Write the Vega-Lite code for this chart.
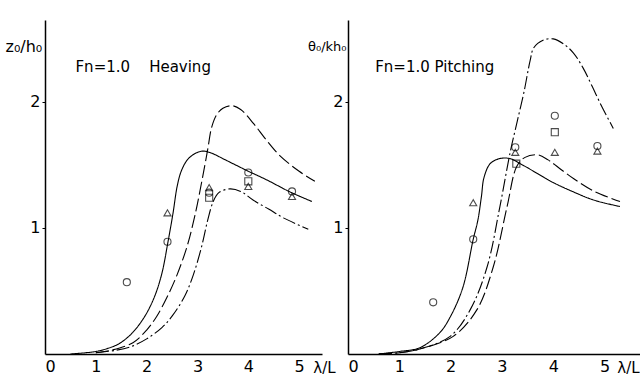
{
  "$schema": "https://vega.github.io/schema/vega-lite/v6.json",
  "padding": {"left": 5, "top": 20, "right": 0, "bottom": 4},
  "background": "white",
  "spacing": 26,
  "bounds": "flush",
  "config": {
    "view": {"stroke": null},
    "font": "DejaVu Sans",
    "axis": {
      "domainColor": "black", "domainWidth": 1.5, "tickColor": "black", "tickWidth": 1,
      "labelColor": "black", "labelFontSize": 16, "titleColor": "black", "titleFontWeight": "normal",
      "grid": false
    }
  },
  "datasets": {
    "heaveLines": [
      {"curve": "solid", "x": 0.5, "y": 0.0}, {"curve": "solid", "x": 0.8, "y": 0.01}, {"curve": "solid", "x": 1.0, "y": 0.02},
      {"curve": "solid", "x": 1.2, "y": 0.04}, {"curve": "solid", "x": 1.45, "y": 0.08}, {"curve": "solid", "x": 1.7, "y": 0.16},
      {"curve": "solid", "x": 1.95, "y": 0.29}, {"curve": "solid", "x": 2.15, "y": 0.45}, {"curve": "solid", "x": 2.3, "y": 0.64},
      {"curve": "solid", "x": 2.42, "y": 0.89}, {"curve": "solid", "x": 2.52, "y": 1.12}, {"curve": "solid", "x": 2.6, "y": 1.33},
      {"curve": "solid", "x": 2.68, "y": 1.45}, {"curve": "solid", "x": 2.8, "y": 1.54}, {"curve": "solid", "x": 2.95, "y": 1.59},
      {"curve": "solid", "x": 3.11, "y": 1.61}, {"curve": "solid", "x": 3.3, "y": 1.59}, {"curve": "solid", "x": 3.5, "y": 1.55},
      {"curve": "solid", "x": 3.7, "y": 1.51}, {"curve": "solid", "x": 4.0, "y": 1.45}, {"curve": "solid", "x": 4.37, "y": 1.38},
      {"curve": "solid", "x": 4.8, "y": 1.29}, {"curve": "solid", "x": 5.25, "y": 1.21},
      {"curve": "dash", "x": 1.0, "y": 0.01}, {"curve": "dash", "x": 1.3, "y": 0.03}, {"curve": "dash", "x": 1.73, "y": 0.09},
      {"curve": "dash", "x": 2.0, "y": 0.19}, {"curve": "dash", "x": 2.2, "y": 0.3}, {"curve": "dash", "x": 2.4, "y": 0.45},
      {"curve": "dash", "x": 2.6, "y": 0.63}, {"curve": "dash", "x": 2.8, "y": 0.86}, {"curve": "dash", "x": 2.95, "y": 1.1},
      {"curve": "dash", "x": 3.09, "y": 1.38}, {"curve": "dash", "x": 3.2, "y": 1.62}, {"curve": "dash", "x": 3.28, "y": 1.8},
      {"curve": "dash", "x": 3.38, "y": 1.9}, {"curve": "dash", "x": 3.5, "y": 1.95}, {"curve": "dash", "x": 3.68, "y": 1.97},
      {"curve": "dash", "x": 3.85, "y": 1.94}, {"curve": "dash", "x": 4.1, "y": 1.83}, {"curve": "dash", "x": 4.35, "y": 1.7},
      {"curve": "dash", "x": 4.63, "y": 1.57}, {"curve": "dash", "x": 5.0, "y": 1.45}, {"curve": "dash", "x": 5.31, "y": 1.37},
      {"curve": "dashdot", "x": 1.0, "y": 0.01}, {"curve": "dashdot", "x": 1.4, "y": 0.03}, {"curve": "dashdot", "x": 1.7, "y": 0.06},
      {"curve": "dashdot", "x": 2.0, "y": 0.12}, {"curve": "dashdot", "x": 2.3, "y": 0.21}, {"curve": "dashdot", "x": 2.5, "y": 0.3},
      {"curve": "dashdot", "x": 2.75, "y": 0.46}, {"curve": "dashdot", "x": 2.92, "y": 0.63}, {"curve": "dashdot", "x": 3.08, "y": 0.85},
      {"curve": "dashdot", "x": 3.2, "y": 1.06}, {"curve": "dashdot", "x": 3.31, "y": 1.21}, {"curve": "dashdot", "x": 3.42, "y": 1.28},
      {"curve": "dashdot", "x": 3.64, "y": 1.31}, {"curve": "dashdot", "x": 3.85, "y": 1.29}, {"curve": "dashdot", "x": 4.1, "y": 1.22},
      {"curve": "dashdot", "x": 4.4, "y": 1.15}, {"curve": "dashdot", "x": 4.69, "y": 1.08}, {"curve": "dashdot", "x": 5.18, "y": 0.99}
    ],
    "heavePts": [
      {"sym": "circle", "x": 1.61, "y": 0.57}, {"sym": "circle", "x": 2.41, "y": 0.89}, {"sym": "triangle", "x": 2.41, "y": 1.12},
      {"sym": "triangle", "x": 3.23, "y": 1.32}, {"sym": "circle", "x": 3.23, "y": 1.28}, {"sym": "square", "x": 3.23, "y": 1.24},
      {"sym": "circle", "x": 4.0, "y": 1.44}, {"sym": "square", "x": 4.0, "y": 1.37}, {"sym": "triangle", "x": 4.0, "y": 1.33},
      {"sym": "circle", "x": 4.86, "y": 1.29}, {"sym": "triangle", "x": 4.86, "y": 1.25}
    ],
    "pitchLines": [
      {"curve": "solid", "x": 0.6, "y": 0.0}, {"curve": "solid", "x": 1.0, "y": 0.02}, {"curve": "solid", "x": 1.4, "y": 0.05},
      {"curve": "solid", "x": 1.79, "y": 0.17}, {"curve": "solid", "x": 2.0, "y": 0.3}, {"curve": "solid", "x": 2.24, "y": 0.53},
      {"curve": "solid", "x": 2.44, "y": 0.91}, {"curve": "solid", "x": 2.53, "y": 1.06}, {"curve": "solid", "x": 2.6, "y": 1.25},
      {"curve": "solid", "x": 2.65, "y": 1.4}, {"curve": "solid", "x": 2.77, "y": 1.51}, {"curve": "solid", "x": 2.95, "y": 1.55},
      {"curve": "solid", "x": 3.16, "y": 1.55}, {"curve": "solid", "x": 3.4, "y": 1.5}, {"curve": "solid", "x": 3.7, "y": 1.43},
      {"curve": "solid", "x": 4.0, "y": 1.36}, {"curve": "solid", "x": 4.37, "y": 1.29}, {"curve": "solid", "x": 4.8, "y": 1.22},
      {"curve": "solid", "x": 5.3, "y": 1.17},
      {"curve": "dashdot", "x": 0.6, "y": 0.0}, {"curve": "dashdot", "x": 1.0, "y": 0.01}, {"curve": "dashdot", "x": 1.4, "y": 0.04},
      {"curve": "dashdot", "x": 1.99, "y": 0.14}, {"curve": "dashdot", "x": 2.38, "y": 0.35}, {"curve": "dashdot", "x": 2.71, "y": 0.69},
      {"curve": "dashdot", "x": 2.96, "y": 1.17}, {"curve": "dashdot", "x": 3.16, "y": 1.6}, {"curve": "dashdot", "x": 3.3, "y": 1.85},
      {"curve": "dashdot", "x": 3.43, "y": 2.08}, {"curve": "dashdot", "x": 3.55, "y": 2.33}, {"curve": "dashdot", "x": 3.62, "y": 2.43},
      {"curve": "dashdot", "x": 3.8, "y": 2.49}, {"curve": "dashdot", "x": 4.0, "y": 2.5}, {"curve": "dashdot", "x": 4.2, "y": 2.46},
      {"curve": "dashdot", "x": 4.39, "y": 2.39}, {"curve": "dashdot", "x": 4.58, "y": 2.27}, {"curve": "dashdot", "x": 4.75, "y": 2.13},
      {"curve": "dashdot", "x": 4.95, "y": 1.96}, {"curve": "dashdot", "x": 5.17, "y": 1.79},
      {"curve": "dash", "x": 0.6, "y": 0.0}, {"curve": "dash", "x": 1.0, "y": 0.01}, {"curve": "dash", "x": 1.4, "y": 0.04},
      {"curve": "dash", "x": 2.05, "y": 0.14}, {"curve": "dash", "x": 2.51, "y": 0.35}, {"curve": "dash", "x": 2.83, "y": 0.69},
      {"curve": "dash", "x": 3.1, "y": 1.17}, {"curve": "dash", "x": 3.29, "y": 1.49}, {"curve": "dash", "x": 3.45, "y": 1.56},
      {"curve": "dash", "x": 3.7, "y": 1.58}, {"curve": "dash", "x": 3.9, "y": 1.54}, {"curve": "dash", "x": 4.1, "y": 1.48},
      {"curve": "dash", "x": 4.4, "y": 1.39}, {"curve": "dash", "x": 4.8, "y": 1.29}, {"curve": "dash", "x": 5.3, "y": 1.21}
    ],
    "pitchPts": [
      {"sym": "circle", "x": 1.66, "y": 0.41}, {"sym": "circle", "x": 2.44, "y": 0.91}, {"sym": "triangle", "x": 2.44, "y": 1.2},
      {"sym": "circle", "x": 3.26, "y": 1.64}, {"sym": "triangle", "x": 3.26, "y": 1.6}, {"sym": "square", "x": 3.28, "y": 1.51},
      {"sym": "circle", "x": 4.03, "y": 1.89}, {"sym": "square", "x": 4.03, "y": 1.76}, {"sym": "triangle", "x": 4.03, "y": 1.6},
      {"sym": "circle", "x": 4.86, "y": 1.65}, {"sym": "triangle", "x": 4.86, "y": 1.61}
    ],
    "heaveLabel": [{"x": 0.6, "y": 2.28, "t": "Fn=1.0\u00a0\u00a0\u00a0\u00a0Heaving"}],
    "pitchLabel": [{"x": 0.53, "y": 2.28, "t": "Fn=1.0 Pitching"}]
  },
  "hconcat": [
    {
      "width": 277, "height": 334,
      "layer": [
        {
          "data": {"name": "heaveLines"},
          "mark": {"type": "line", "color": "black", "strokeWidth": 1.1, "interpolate": "catmull-rom"},
          "encoding": {
            "x": {"field": "x", "type": "quantitative", "scale": {"domain": [0, 5.45], "nice": false},
                  "axis": {"values": [0, 1, 2, 3, 4, 5], "format": "d", "tickSize": 0, "labelPadding": 4, "title": "λ/L", "titleFontSize": 15,
                           "titleX": 279, "titleY": 6, "titleAlign": "center", "titleBaseline": "top"}},
            "y": {"field": "y", "type": "quantitative", "scale": {"domain": [0, 2.65], "nice": false},
                  "axis": {"values": [1, 2], "format": "d", "tickSize": 3, "labelPadding": 2, "title": "z₀/h₀", "titleFontSize": 16, "titleAngle": 0,
                           "titleX": -40, "titleY": 26, "titleAlign": "left", "titleBaseline": "middle"}},
            "strokeDash": {"field": "curve", "type": "nominal", "legend": null,
                           "scale": {"domain": ["solid", "dash", "dashdot"], "range": [[1, 0], [13, 4], [13, 3, 2, 3]]}}
          }
        },
        {
          "data": {"name": "heavePts"},
          "mark": {"type": "point", "filled": false, "color": "black", "strokeWidth": 1.1, "size": 50},
          "encoding": {
            "x": {"field": "x", "type": "quantitative"},
            "y": {"field": "y", "type": "quantitative"},
            "shape": {"field": "sym", "type": "nominal", "legend": null,
                      "scale": {"domain": ["circle", "square", "triangle"], "range": ["circle", "square", "triangle-up"]}}
          }
        },
        {
          "data": {"name": "heaveLabel"},
          "mark": {"type": "text", "align": "left", "baseline": "middle", "fontSize": 15, "color": "black"},
          "encoding": {
            "x": {"field": "x", "type": "quantitative"},
            "y": {"field": "y", "type": "quantitative"},
            "text": {"field": "t", "type": "nominal"}
          }
        }
      ]
    },
    {
      "width": 292, "height": 334,
      "layer": [
        {
          "data": {"name": "pitchLines"},
          "mark": {"type": "line", "color": "black", "strokeWidth": 1.1, "interpolate": "catmull-rom"},
          "encoding": {
            "x": {"field": "x", "type": "quantitative", "scale": {"domain": [0, 5.69], "nice": false},
                  "axis": {"values": [0, 1, 2, 3, 4, 5], "format": "d", "tickSize": 0, "labelPadding": 4, "title": "λ/L", "titleFontSize": 15,
                           "titleX": 280, "titleY": 6, "titleAlign": "center", "titleBaseline": "top"}},
            "y": {"field": "y", "type": "quantitative", "scale": {"domain": [0, 2.65], "nice": false},
                  "axis": {"values": [1, 2], "format": "d", "tickSize": 3, "labelPadding": 2, "title": "θ₀/kh₀", "titleFontSize": 13, "titleAngle": 0,
                           "titleX": -2, "titleY": 26, "titleAlign": "right", "titleBaseline": "middle"}},
            "strokeDash": {"field": "curve", "type": "nominal", "legend": null,
                           "scale": {"domain": ["solid", "dash", "dashdot"], "range": [[1, 0], [13, 4], [13, 3, 2, 3]]}}
          }
        },
        {
          "data": {"name": "pitchPts"},
          "mark": {"type": "point", "filled": false, "color": "black", "strokeWidth": 1.1, "size": 50},
          "encoding": {
            "x": {"field": "x", "type": "quantitative"},
            "y": {"field": "y", "type": "quantitative"},
            "shape": {"field": "sym", "type": "nominal", "legend": null,
                      "scale": {"domain": ["circle", "square", "triangle"], "range": ["circle", "square", "triangle-up"]}}
          }
        },
        {
          "data": {"name": "pitchLabel"},
          "mark": {"type": "text", "align": "left", "baseline": "middle", "fontSize": 15, "color": "black"},
          "encoding": {
            "x": {"field": "x", "type": "quantitative"},
            "y": {"field": "y", "type": "quantitative"},
            "text": {"field": "t", "type": "nominal"}
          }
        }
      ]
    }
  ]
}
